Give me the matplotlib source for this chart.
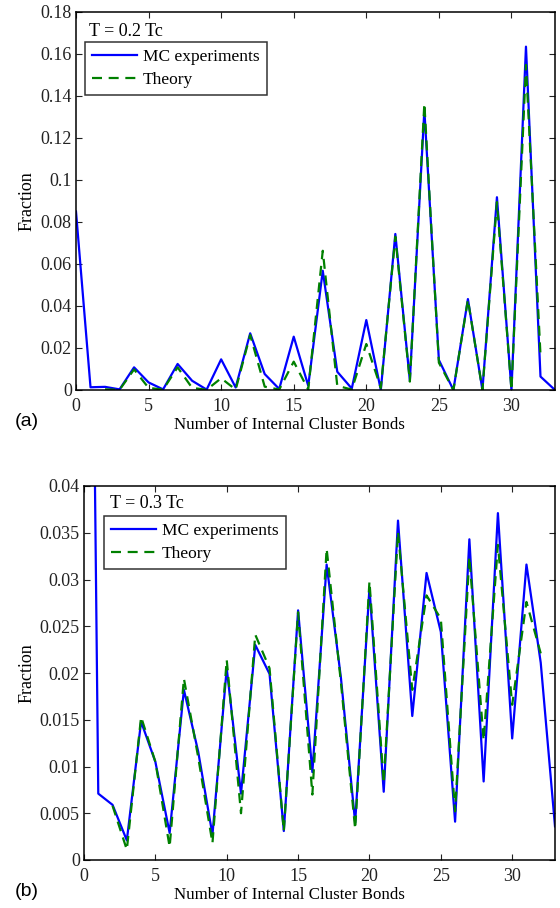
import numpy as np
import matplotlib
matplotlib.use("Agg")
import matplotlib.pyplot as plt

# bond counts
bonds = list(range(34))
theory_bonds = list(range(2, 33))

# T = 0.2 Tc
mc_02 = [0.085, 0.0013, 0.0015, 0.0003, 0.0108, 0.0036, 0.0003, 0.0124, 0.0044, 0.0002,
         0.0146, 0.0012, 0.0270, 0.0076, 0.0005, 0.0254, 0.0020, 0.0568, 0.0087, 0.0007,
         0.0333, 0.0000, 0.0743, 0.0045, 0.1333, 0.0143, 0.0000, 0.0433, 0.0000, 0.0918,
         0.0000, 0.1635, 0.0064, 0.0000]
th_02 = [0.0003, 0.0001, 0.0098, 0.0010, 0.0002, 0.0108, 0.0010, 0.0001, 0.0056, 0.0002,
         0.0262, 0.0016, 0.0002, 0.0135, 0.0002, 0.0663, 0.0020, 0.0002, 0.0219, 0.0010,
         0.0730, 0.0040, 0.1365, 0.0130, 0.0000, 0.0430, 0.0000, 0.0895, 0.0000, 0.1548,
         0.0167]

# T = 0.3 Tc
mc_03 = [0.150, 0.0071, 0.0059, 0.0021, 0.0148, 0.0105, 0.0029, 0.0182, 0.0116, 0.0027,
         0.0205, 0.0071, 0.0230, 0.0199, 0.0031, 0.0267, 0.0094, 0.0316, 0.0195, 0.0040,
         0.0291, 0.0073, 0.0363, 0.0154, 0.0307, 0.0244, 0.0041, 0.0343, 0.0084, 0.0371,
         0.0130, 0.0316, 0.0211, 0.0036]
th_03 = [0.0058, 0.0011, 0.0153, 0.0105, 0.0014, 0.0194, 0.0110, 0.0018, 0.0214, 0.0050,
         0.0241, 0.0205, 0.0031, 0.0265, 0.0070, 0.0333, 0.0190, 0.0033, 0.0298, 0.0082,
         0.0351, 0.0182, 0.0283, 0.0258, 0.0052, 0.0324, 0.0128, 0.0337, 0.0166, 0.0276,
         0.0221]

plt.rcParams['font.family'] = ['Liberation Serif', 'DejaVu Serif']

W, H = 560, 908
fig = plt.figure(figsize=(W / 100, H / 100), dpi=100)


def fx(px):
    return px / W


def fy(py):
    return 1 - py / H


# axes boxes in pixels: left, right, top, bottom
ax1 = fig.add_axes([fx(76), fy(390), (555 - 76) / W, (390 - 12) / H])
ax2 = fig.add_axes([fx(84), fy(860), (555 - 84) / W, (860 - 486) / H])

panels = [
    (ax1, mc_02, th_02, "T = 0.2 Tc", 0.18, np.arange(0, 0.181, 0.02), (89, 31), (85, 42), 76, 378),
    (ax2, mc_03, th_03, "T = 0.3 Tc", 0.04, np.arange(0, 0.0401, 0.005), (110, 504), (104, 516), 84, 374),
]

for ax, mc, th, title, ymax, yt, tpos, lpos, left, hpx in panels:
    ax.plot(bonds, mc, color="#0000ff", lw=1.6, label="MC experiments")
    ax.plot(theory_bonds, th, color="#008000", lw=1.6, ls=(0, (4.5, 3)), label="Theory")
    ax.set_xlim(0, 33)
    ax.set_ylim(0, ymax)
    ax.set_xticks(range(0, 31, 5))
    ax.set_yticks(yt)
    ax.set_yticklabels([("%g" % v) for v in yt])
    ax.tick_params(direction="in", top=True, right=True, length=4, width=0.8,
                   labelsize=13, colors="#222222")
    ax.tick_params(axis="x", pad=6)
    ax.tick_params(axis="y", pad=3)
    for s in ax.spines.values():
        s.set_linewidth(1.1)
    ax.set_xlabel("Number of Internal Cluster Bonds", fontsize=12.2, va="center")
    ax.xaxis.set_label_coords((289 - left) / (555 - left), -35 / hpx)
    ax.set_ylabel("Fraction", fontsize=13, va="center")
    ax.yaxis.set_label_coords((27 - left) / (555 - left), 0.5)
    leg = ax.legend(loc="upper left", bbox_to_anchor=(fx(lpos[0]), fy(lpos[1])),
                    bbox_transform=fig.transFigure, frameon=True, fancybox=False,
                    edgecolor="black", fontsize=12.5, handlelength=2.6,
                    handletextpad=0.35, borderpad=0.4, labelspacing=0.4, borderaxespad=0)
    leg.get_frame().set_linewidth(1.1)
    fig.text(fx(tpos[0]), fy(tpos[1]), title, ha="left", va="center", fontsize=13)

fig.text(fx(15), fy(421), "(a)", family="Liberation Sans", fontsize=14, va="center")
fig.text(fx(15), fy(892), "(b)", family="Liberation Sans", fontsize=14, va="center")

fig.savefig("out.png", dpi=100)
